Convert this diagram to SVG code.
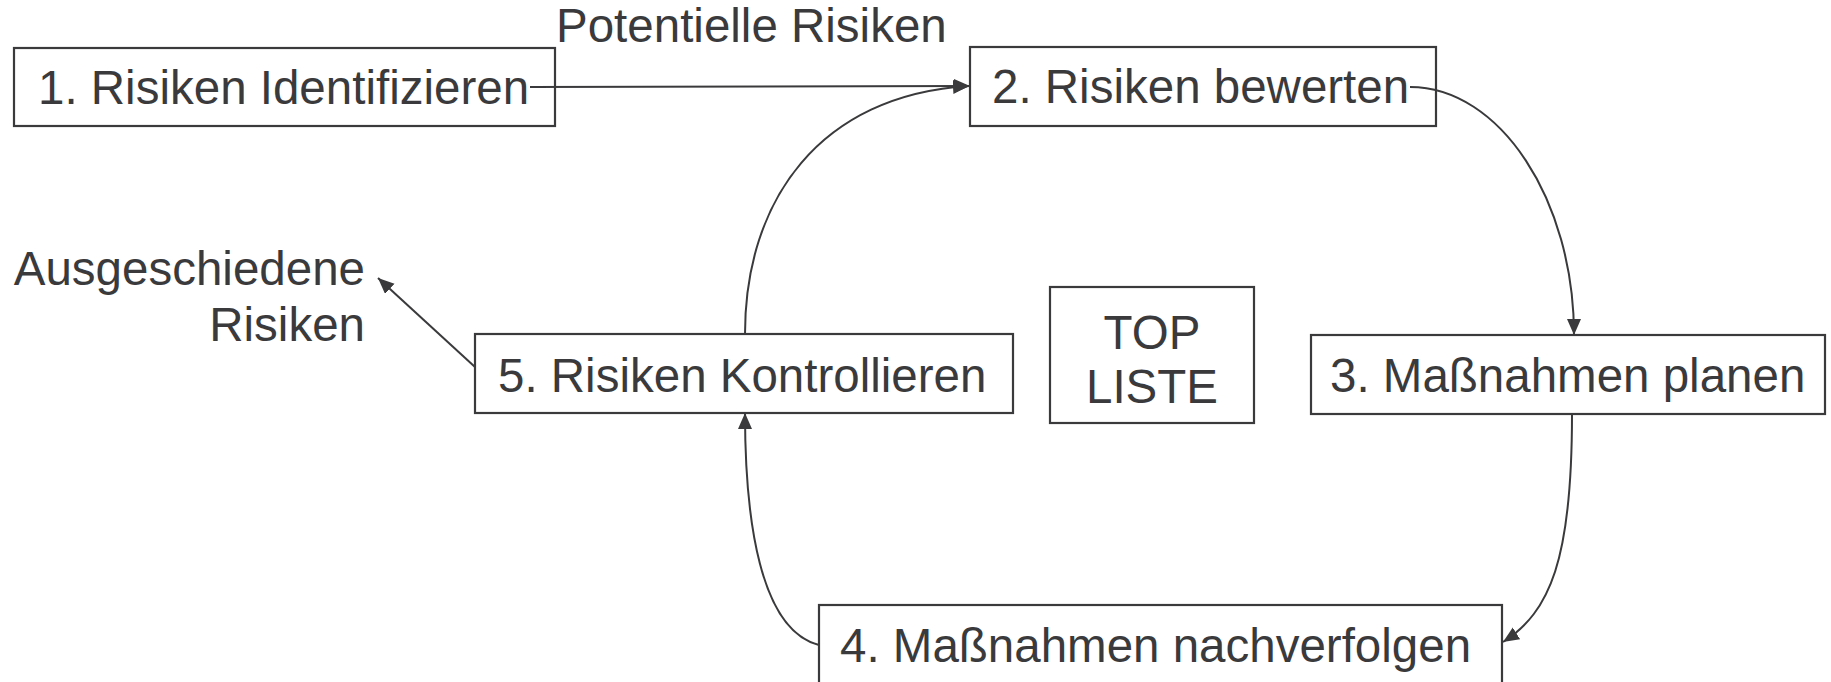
<svg xmlns="http://www.w3.org/2000/svg" width="1831" height="682" viewBox="0 0 1831 682">
<style>
.box{fill:#fff;stroke:#3a3a3c;stroke-width:2.2}
.t{font-family:"Liberation Sans",Arial,sans-serif;font-size:47.5px;fill:#3a3a3c}
.c{fill:none;stroke:#3a3a3c;stroke-width:2}
</style>
<defs>
<marker id="ah" markerUnits="userSpaceOnUse" markerWidth="18" markerHeight="16" refX="16" refY="7" orient="auto">
<path d="M0,0 L16,7 L0,14 Z" fill="#3a3a3c"/>
</marker>
</defs>
<rect width="1831" height="682" fill="#fff"/>
<g id="n1"><rect class="box" x="14" y="48" width="541" height="78"/><text class="t" x="38" y="104">1. Risiken Identifizieren</text></g>
<g id="n2"><rect class="box" x="970" y="47" width="466" height="79"/><text class="t" x="992" y="103">2. Risiken bewerten</text></g>
<g id="n3"><rect class="box" x="1311" y="335" width="514" height="79"/><text class="t" x="1330" y="392">3. Maßnahmen planen</text></g>
<g id="n4"><rect class="box" x="819" y="605" width="683" height="82"/><text class="t" x="840" y="662">4. Maßnahmen nachverfolgen</text></g>
<g id="n5"><rect class="box" x="475" y="334" width="538" height="79"/><text class="t" x="498" y="392">5. Risiken Kontrollieren</text></g>
<g id="top"><rect class="box" x="1050" y="287" width="204" height="136"/><text class="t" x="1152" y="349" text-anchor="middle">TOP</text><text class="t" x="1152" y="403" text-anchor="middle">LISTE</text></g>
<g id="lbl-pot"><text class="t" x="556" y="42">Potentielle Risiken</text></g>
<g id="lbl-aus"><text class="t" x="365" y="285" text-anchor="end">Ausgeschiedene</text><text class="t" x="365" y="341" text-anchor="end">Risiken</text></g>
<g id="connectors">
<path class="c" d="M530,87 L970,86" marker-end="url(#ah)"/>
<path class="c" d="M1410,87 C1500,87 1574,200 1574,335" marker-end="url(#ah)"/>
<path class="c" d="M1572,414 C1572,560 1550,612 1503,642" marker-end="url(#ah)"/>
<path class="c" d="M819,645 C760,630 745,520 745,413" marker-end="url(#ah)"/>
<path class="c" d="M745,334 C745,200 820,95 969,86" marker-end="url(#ah)"/>
<path class="c" d="M475,367 L378,278" marker-end="url(#ah)"/>
</g>
</svg>
